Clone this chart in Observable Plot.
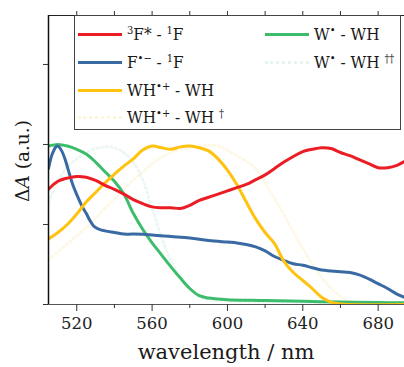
<!DOCTYPE html>
<html><head><meta charset="utf-8">
<script src="https://cdn.jsdelivr.net/npm/d3@7"></script>
<script src="https://cdn.jsdelivr.net/npm/@observablehq/plot@0.6"></script>
<style>
html,body{margin:0;padding:0;background:#fff;}
#wrap{position:relative;width:404px;height:367px;overflow:hidden;font-family:"DejaVu Serif",serif;color:#1a1a1a;}
#legend{position:absolute;left:74px;top:15px;width:327px;height:115px;border:1px solid #444;background:#fff;box-sizing:border-box;}
.item{position:absolute;height:20px;font-size:17px;line-height:20px;white-space:nowrap;font-family:"DejaVu Serif Condensed","DejaVu Serif",serif;}
.swatch{position:absolute;top:9px;width:44px;height:0;border-top-width:3px;border-top-style:solid;}
.lbl{position:absolute;left:49px;top:0;}
sup{font-size:11px;vertical-align:6px;line-height:0;}
#xlab{position:absolute;left:48px;width:356px;text-align:center;top:340px;font-size:21px;line-height:24px;}
#ylab{position:absolute;left:22px;top:161px;font-size:18.5px;white-space:nowrap;transform:translate(-50%,-50%) rotate(-90deg);}
</style></head>
<body><div id="wrap"><div id="chart"></div><div id="legend"></div><div id="xlab">wavelength / nm</div><div id="ylab">Δ<i>A</i> (a.u.)</div></div>
<script>
// ---- data ----
const redX = [505,510,515,520,525,530,535,540,545,550,555,560,565,570,575,580,585,590,595,600,605,610,615,620,625,630,635,640,645,650,655,660,665,670,675,680,685,690,695];
const redY = [0.72,0.77,0.79,0.80,0.795,0.775,0.745,0.72,0.69,0.655,0.63,0.61,0.605,0.605,0.60,0.62,0.65,0.67,0.69,0.71,0.73,0.75,0.78,0.81,0.85,0.89,0.925,0.955,0.97,0.98,0.975,0.95,0.93,0.905,0.88,0.855,0.855,0.87,0.90];

const blueX = [505,507,509,510,512,514,516,518,521,523,525,527,529,532,535,540,545,550,560,570,580,590,600,605,610,615,620,625,630,635,640,645,650,655,660,665,670,675,680,685,690,695];
const blueY = [0.85,0.94,0.985,0.99,0.96,0.90,0.82,0.745,0.66,0.61,0.57,0.525,0.49,0.47,0.46,0.45,0.44,0.44,0.435,0.425,0.415,0.40,0.39,0.385,0.375,0.36,0.335,0.30,0.275,0.255,0.245,0.23,0.215,0.21,0.205,0.20,0.185,0.16,0.13,0.10,0.065,0.04];

const yellowX = [505,510,515,520,525,530,535,540,545,550,555,560,565,570,575,580,585,590,595,600,605,610,615,620,625,630,635,640,645,650,655,660,665,695];
const yellowY = [0.41,0.45,0.50,0.565,0.64,0.70,0.76,0.815,0.865,0.91,0.965,0.99,0.98,0.97,0.985,0.99,0.98,0.96,0.91,0.84,0.75,0.64,0.535,0.45,0.38,0.27,0.20,0.15,0.10,0.045,0.015,0.003,0,0];

const yellowDotX = [505,515,525,535,545,555,565,575,585,595,605,615,622,630,640,650,660,668,695];
const yellowDotY = [0.28,0.38,0.48,0.60,0.72,0.83,0.92,0.97,0.99,0.99,0.93,0.85,0.72,0.56,0.35,0.17,0.05,0.01,0];

const greenX = [505,510,515,520,525,530,535,540,545,550,555,560,565,570,575,580,585,590,595,600,620,640,660,680,695];
const greenY = [0.99,1.0,0.99,0.97,0.94,0.89,0.83,0.77,0.69,0.57,0.47,0.385,0.31,0.235,0.165,0.10,0.055,0.04,0.035,0.03,0.025,0.02,0.015,0.012,0.01];

const greenDotX = [505,510,515,520,525,530,535,540,545,550,555,560,565,570,575,580,585,590,600,695];
const greenDotY = [0.64,0.77,0.86,0.91,0.95,0.975,0.985,0.98,0.95,0.89,0.78,0.60,0.42,0.27,0.17,0.10,0.05,0.03,0.02,0.01];

const xMajorTicks = [520,560,600,640,680];
const xMinorTicks = [540,580,620,660];
const xTopTicks = [520,540,560,580,600,620,640,660,680];
const yTicks = [0,0.5,1,1.5];

const legendItems = [
  {html:"<sup>3</sup>F* - <sup>1</sup>F", color:"#ec1c24", dotted:false, col:0, row:0},
  {html:"F<sup>•−</sup> - <sup>1</sup>F", color:"#3a6aa3", dotted:false, col:0, row:1},
  {html:"WH<sup>•+</sup> - WH", color:"#ffc20e", dotted:false, col:0, row:2},
  {html:"WH<sup>•+</sup> - WH <sup>†</sup>", color:"#fdf6dc", dotted:true, col:0, row:3},
  {html:"W<sup>•</sup> - WH", color:"#3dbd6c", dotted:false, col:1, row:0},
  {html:"W<sup>•</sup> - WH <sup>††</sup>", color:"#e6f4f0", dotted:true, col:1, row:1}
];

const xDomain = [505, 694];
const yDomain = [0, 1.806];

const toRows = (xs, ys) => xs.map((x, i) => ({x, y: ys[i]}));

const solid = (xs, ys, color) => Plot.lineY(toRows(xs, ys), {x:"x", y:"y", stroke:color, strokeWidth:3, curve:"catmull-rom", clip:true});
const dotted = (xs, ys, color) => Plot.lineY(toRows(xs, ys), {x:"x", y:"y", stroke:color, strokeWidth:3, strokeDasharray:"1.2,3.5", strokeOpacity:0.2, curve:"catmull-rom", clip:true});

const chart = Plot.plot({
  width: 404, height: 367,
  marginLeft: 48, marginRight: 0, marginTop: 15, marginBottom: 63,
  x: {domain: xDomain},
  y: {domain: yDomain},
  style: {fontFamily: "DejaVu Serif", fontSize: "16.5px", color: "#222", background: "white", overflow: "visible"},
  marks: [
    dotted(yellowDotX, yellowDotY, "#f5d97a"),
    dotted(greenDotX, greenDotY, "#9fd8c8"),
    solid(greenX, greenY, "#3dbd6c"),
    solid(blueX, blueY, "#3a6aa3"),
    solid(yellowX, yellowY, "#ffc20e"),
    solid(redX, redY, "#ec1c24"),
    Plot.ruleY([yDomain[0]], {stroke:"#555", strokeWidth:1.2}),
    Plot.ruleY([yDomain[1]], {stroke:"#222", strokeWidth:1.2}),
    Plot.ruleX([xDomain[0]], {stroke:"#111", strokeWidth:1.5}),
    Plot.axisX(xMajorTicks, {anchor:"bottom", tickSize:7, tickPadding:6, label:null, tickFormat:d=>String(d), stroke:"#333"}),
    Plot.axisX(xMinorTicks, {anchor:"bottom", tickSize:4, label:null, tickFormat:()=>"", stroke:"#333"}),
    Plot.axisX(xTopTicks, {anchor:"top", tickSize:5, label:null, tickFormat:()=>"", stroke:"#333"}),
    Plot.axisY(yTicks, {anchor:"left", tickSize:5, label:null, tickFormat:()=>"", stroke:"#333"})
  ]
});
document.getElementById("chart").appendChild(chart);

const leg = document.getElementById("legend");
const colLeft = [3, 190];
const rowTop = [8, 36, 64, 91];
for (const it of legendItems) {
  const d = document.createElement("div");
  d.className = "item";
  d.style.left = colLeft[it.col] + "px";
  d.style.top = rowTop[it.row] + "px";
  const sw = document.createElement("div");
  sw.className = "swatch";
  sw.style.borderTopColor = it.color;
  if (it.dotted) { sw.style.borderTopStyle = "dotted"; }
  d.appendChild(sw);
  const t = document.createElement("span");
  t.className = "lbl";
  t.innerHTML = it.html;
  d.appendChild(t);
  leg.appendChild(d);
}
</script>
</body></html>
